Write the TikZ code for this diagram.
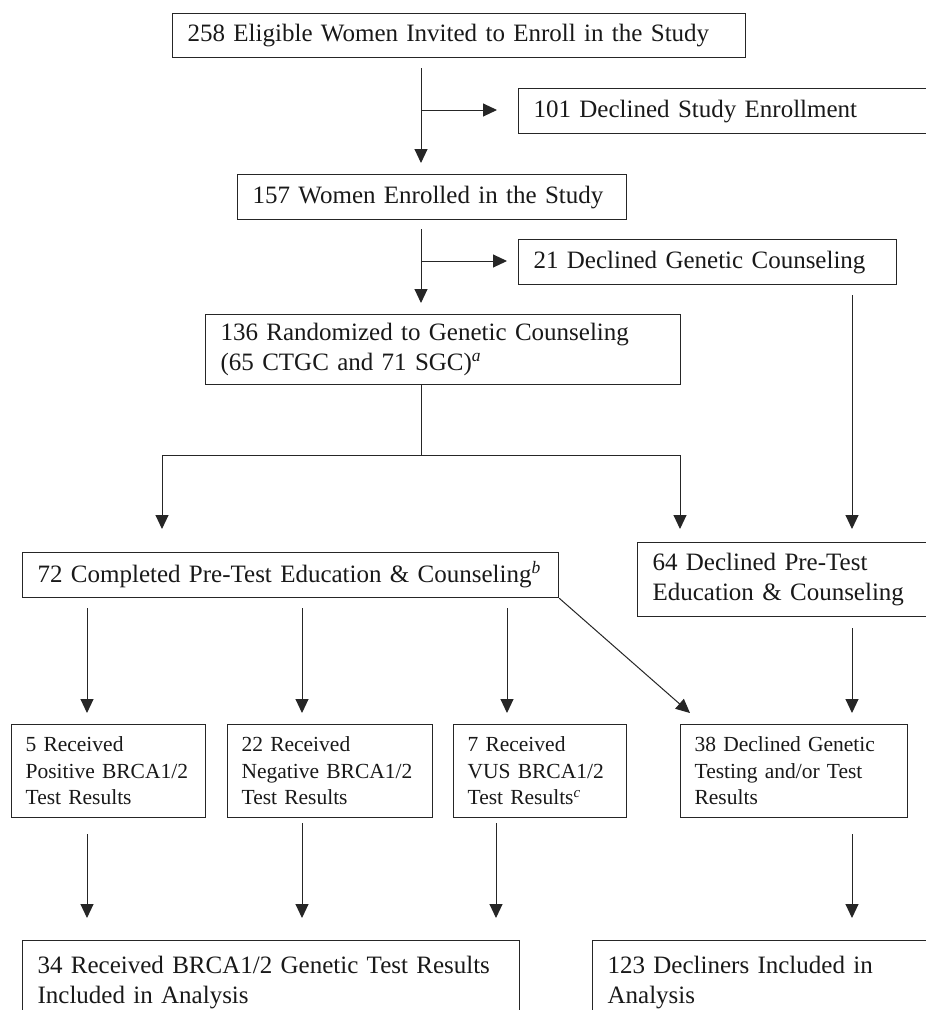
\documentclass[tikz,border=0pt]{standalone}
\usepackage{fontspec}
\setmainfont{Liberation Serif}
\usetikzlibrary{arrows.meta,calc}
\usetikzlibrary{positioning}

\begin{document}
\begin{tikzpicture}[x=1pt,y=-1pt,>={Triangle[width=13pt,length=14pt]},
  box/.style={draw=black!85,line width=1.2pt,anchor=north west,align=left,inner xsep=15pt,inner ysep=0pt,text=black!90,font=\fontsize{25}{29.5}\selectfont},
  small/.style={box,inner xsep=14pt,font=\fontsize{21.5}{26.5}\selectfont},
  arr/.style={->,draw=black!85,line width=1pt}]
\clip (0,0) rectangle (926,1010);
\fill[white] (0,0) rectangle (926,1010);
% enrolment
\node[box,text width=543pt,minimum height=44pt] (elig) at (172,13) {258 Eligible Women Invited to Enroll in the Study};
\node[box,text width=392pt,minimum height=45pt] (decl) at (518,88) {101 Declined Study Enrollment};
\node[box,text width=359pt,minimum height=45pt] (enr) at (237,174) {157 Women Enrolled in the Study};
\node[box,text width=348pt,minimum height=45pt] (decgc) at (518,239) {21 Declined Genetic Counseling};
\node[box,text width=445pt,minimum height=70pt] (rand) at (205,314) {136 Randomized to Genetic Counseling\\(65 CTGC and 71 SGC)\textsuperscript{\itshape a}};
% counselling
\node[box,text width=506pt,minimum height=45pt] (compl) at (22,552) {72 Completed Pre-Test Education \& Counseling\textsuperscript{\itshape b}};
\node[box,text width=273pt,minimum height=74pt] (declpre) at (637,542) {64 Declined Pre-Test\\Education \& Counseling};
% test results
\node[small,text width=166pt,minimum height=93pt] (pos) at (11,724) {5 Received\\Positive BRCA1/2\\Test Results};
\node[small,text width=177pt,minimum height=93pt] (neg) at (227,724) {22 Received\\Negative BRCA1/2\\Test Results};
\node[small,text width=145pt,minimum height=93pt] (vus) at (453,724) {7 Received\\VUS BRCA1/2\\Test Results\textsuperscript{\itshape c}};
\node[small,text width=199pt,minimum height=93pt] (dtest) at (680,724) {38 Declined Genetic\\Testing and/or Test\\Results};
% analysis
\node[box,text width=467pt,inner ysep=16pt] (incl) at (22,940) {34 Received BRCA1/2 Genetic Test Results\\Included in Analysis};
\node[box,text width=318pt,inner ysep=16pt] (dincl) at (592,940) {123 Decliners Included in\\Analysis};

% connectors, top part
\coordinate (s1) at (421,110);
\draw[arr,shorten <=10pt,shorten >=11pt] (elig.south -| s1) -- (enr.north -| s1);
\draw[arr,shorten >=21pt] (s1) -- (s1 -| decl.west);
\coordinate (s2) at (421,261);
\draw[arr,shorten <=9pt,shorten >=11pt] (enr.south -| s2) -- (rand.north -| s2);
\draw[arr,shorten >=11pt] (s2) -- (s2 -| decgc.west);
% split after randomisation
\coordinate (s3) at (421,455);
\coordinate (sl) at (162,455);
\coordinate (sr) at (680,455);
\coordinate (s4) at (852,0);
\draw[draw=black!85,line width=1pt] (rand.south -| s3) -- (s3);
\draw[draw=black!85,line width=1pt] (sl) -- (sr);
\draw[arr,shorten >=23pt] (sl) -- (sl |- compl.north);
\draw[arr,shorten >=13pt] (sr) -- (sr |- declpre.north);
\draw[arr,shorten <=10pt,shorten >=13pt] (decgc.south -| s4) -- (declpre.north -| s4);
% to test results
\foreach \x/\n in {87/pos,302/neg,507/vus}
  \draw[arr,shorten <=10pt,shorten >=11pt] (compl.south -| \x,0) -- (\n.north -| \x,0);
\draw[arr] (compl.south east) -- ($(dtest.north west)+(10,-11)$);
\draw[arr,shorten <=11pt,shorten >=11pt] (declpre.south -| s4) -- (dtest.north -| s4);
% to analysis
\foreach \x/\n/\g in {87/pos/16,302/neg/5,496/vus/5}
  \draw[arr,shorten <=\g pt,shorten >=22pt] (\n.south -| \x,0) -- (incl.north -| \x,0);
\draw[arr,shorten <=16pt,shorten >=22pt] (dtest.south -| s4) -- (dincl.north -| s4);
\end{tikzpicture}
\end{document}
